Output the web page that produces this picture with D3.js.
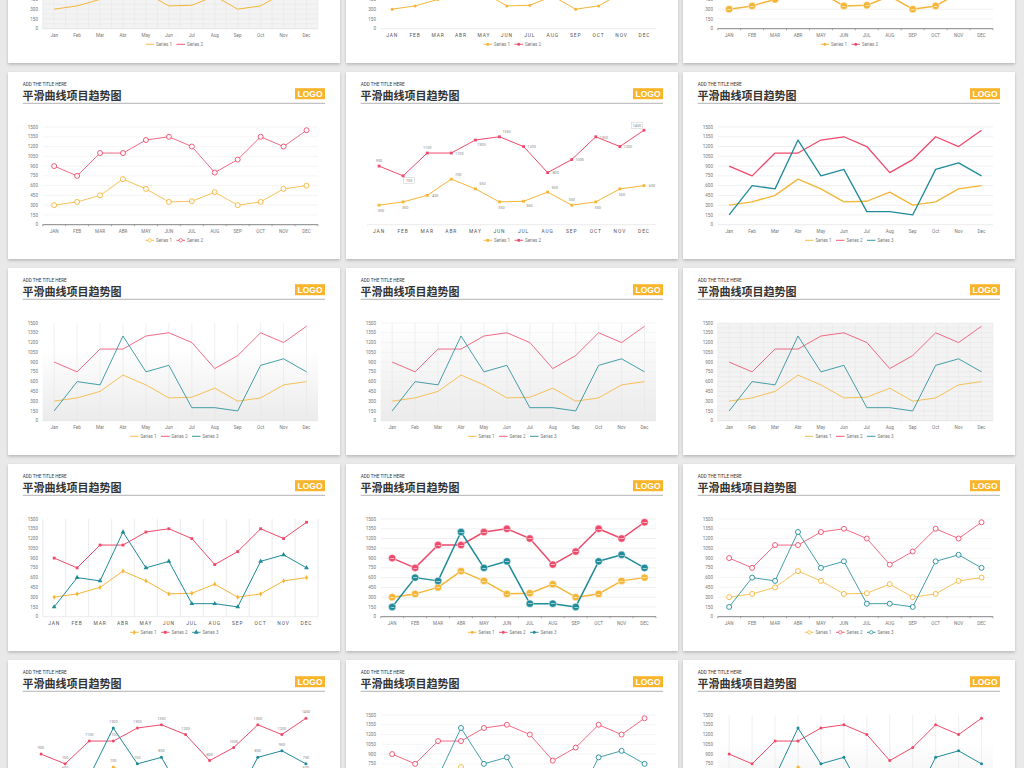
<!DOCTYPE html>
<html><head><meta charset="utf-8">
<script src="https://cdn.jsdelivr.net/npm/d3@7"></script>
<style>html,body{margin:0;padding:0;background:#e9e9e9;overflow:hidden}svg{display:block}</style>
</head><body>
<script>
// ---------- data ----------
const months = ["Jan","Feb","Mar","Abr","May","Jun","Jul","Aug","Sep","Oct","Nov","Dec"];
const series1 = [300,350,450,700,550,350,360,500,300,350,550,600];
const series2 = [900,750,1100,1100,1300,1350,1200,800,1000,1350,1200,1450];
const series3 = [150,600,550,1300,750,850,200,200,150,850,950,750];
const seriesNames = ["Series 1","Series 2","Series 3"];
const yTicks = [0,150,300,450,600,750,900,1050,1200,1350,1500];
const labelPos1 = ["b","b","r","tr","tr","b","br","tr","t","b","b","r"];
const labelPos2 = ["t","br","t","r","br","tr","r","r","r","r","r","tl"];
const boxed2 = [1,11];
const allSeries = [series1, series2, series3];
const colors = ["#f5b536","#ee4a6b","#1f8b99"];

// ---------- layout ----------
const W = 1024, H = 768;
const colX = [8, 346, 683], rowY = [-124, 72, 268, 464, 660];
const CW = 332, CH = 187;

const svg = d3.select("body").append("svg").attr("width", W).attr("height", H);
const defs = svg.append("defs");
const f = defs.append("filter").attr("id","sh").attr("x","-5%").attr("y","-5%").attr("width","110%").attr("height","115%");
f.append("feDropShadow").attr("dx",0).attr("dy",1.5).attr("stdDeviation",1.6).attr("flood-color","#000").attr("flood-opacity",0.22);
const gr = defs.append("linearGradient").attr("id","fade").attr("x1",0).attr("y1",0).attr("x2",0).attr("y2",1);
gr.append("stop").attr("offset","0%").attr("stop-color","#ffffff");
gr.append("stop").attr("offset","100%").attr("stop-color","#ebebeb");

const cards = [
 {c:0,r:0,n:2,lab:"mixed",marker:"none",bg:"grid"},
 {c:1,r:0,n:2,lab:"spaced",marker:"dot",axis:"light"},
 {c:2,r:0,n:2,lab:"upper",marker:"big",hGrid:true,axis:"dark",lw:1.5},
 {c:0,r:1,n:2,lab:"upper",marker:"hollow",hGrid:true,axis:"dark",light:true},
 {c:1,r:1,n:2,lab:"spaced",marker:"square",noY:true,labels:"custom",axis:"light"},
 {c:2,r:1,n:3,lab:"mixed",marker:"none",hGrid:true,lw:1.3},
 {c:0,r:2,n:3,lab:"mixed",marker:"none",bg:"gradient",vGrid:"center",light:true},
 {c:1,r:2,n:3,lab:"mixed",marker:"none",bg:"gradient",hGrid:true,vGrid:"center",light:true},
 {c:2,r:2,n:3,lab:"mixed",marker:"none",bg:"grid",light:true},
 {c:0,r:3,n:3,lab:"spaced",marker:"sym",vGrid:"band"},
 {c:1,r:3,n:3,lab:"upper",marker:"big",hGrid:true,axis:"dark",lw:1.5},
 {c:2,r:3,n:3,lab:"upper",marker:"hollow",hGrid:true,axis:"dark",light:true},
 {c:0,r:4,n:3,lab:"upper",marker:"dot",noY:true,labels:"above"},
 {c:1,r:4,n:3,lab:"upper",marker:"hollow",hGrid:true,light:true},
 {c:2,r:4,n:3,lab:"upper",marker:"dot",bg:"gradient",vGrid:"center"}
];

const FONT = "Roboto, 'Liberation Sans', sans-serif";
const symTypes = [d3.symbolDiamond, d3.symbolSquare, d3.symbolTriangle];

function drawMarker(g, kind, i, cx, cy, val, col) {
  if (kind === "hollow") {
    g.append("circle").attr("cx",cx).attr("cy",cy).attr("r",2.5).attr("fill","#fff").attr("stroke",col).attr("stroke-width",1);
  } else if (kind === "dot") {
    g.append("circle").attr("cx",cx).attr("cy",cy).attr("r",1.5).attr("fill",col);
  } else if (kind === "square") {
    g.append("rect").attr("x",cx-1.4).attr("y",cy-1.4).attr("width",2.8).attr("height",2.8).attr("fill",col);
  } else if (kind === "sym") {
    g.append("path").attr("d", d3.symbol().type(symTypes[i]).size(i===2?10:8)()).attr("transform",`translate(${cx},${cy})`).attr("fill",col);
  } else if (kind === "big") {
    g.append("circle").attr("cx",cx).attr("cy",cy).attr("r",3.7).attr("fill",col).attr("stroke","#fff").attr("stroke-opacity",0.7).attr("stroke-width",0.7);
    if (val !== null) g.append("text").attr("x",cx).attr("y",cy+0.8).attr("text-anchor","middle").attr("font-size",2.3).attr("font-weight","bold").attr("fill","#fff").attr("font-family",FONT).text(val);
  }
}

function drawCard(o) {
  const g = svg.append("g").attr("transform",`translate(${colX[o.c]},${rowY[o.r]})`);
  g.append("rect").attr("width",CW).attr("height",CH).attr("fill","#fff").attr("filter","url(#sh)");
  // header
  g.append("text").attr("x",14.7).attr("y",13.6).attr("font-size",4.6).attr("fill","#333").attr("font-family",FONT).text("ADD THE TITLE HERE");
  g.append("text").attr("x",14.5).attr("y",28).attr("font-size",11).attr("font-weight","bold").attr("fill","#333")
    .attr("font-family","'Noto Sans CJK SC', sans-serif").text("平滑曲线项目趋势图");
  g.append("line").attr("x1",14.7).attr("x2",317).attr("y1",31.3).attr("y2",31.3).attr("stroke","#a0a0a0").attr("stroke-width",0.8);
  g.append("rect").attr("x",287).attr("y",16.2).attr("width",30).attr("height",11).attr("fill","#f8b42a");
  g.append("text").attr("x",302).attr("y",25).attr("text-anchor","middle").attr("font-size",8.5).attr("font-weight","bold")
    .attr("fill","#fff").attr("font-family","'Liberation Sans Narrow', 'Liberation Sans', sans-serif").text("LOGO");

  const x0 = o.noY ? 21 : 34.7, x1 = 310;
  const x = d3.scalePoint().domain(months).range([x0, x1]).padding(0.5);
  const step = x.step();
  const y = d3.scaleLinear().domain([0,1500]).range([152.7, 55]);
  const p = g.append("g");

  // backgrounds
  if (o.bg === "gradient") {
    const top = o.hGrid ? y(1500) : y(1100);
    p.append("rect").attr("x",x0).attr("y",top).attr("width",x1-x0).attr("height",y(0)-top).attr("fill","url(#fade)");
  }
  if (o.bg === "grid") {
    p.append("rect").attr("x",x0).attr("y",y(1500)).attr("width",x1-x0).attr("height",y(0)-y(1500)).attr("fill","#f3f3f3");
    const minorY = d3.range(0,1501,75);
    p.selectAll(null).data(minorY).join("line").attr("x1",x0).attr("x2",x1).attr("y1",d=>y(d)).attr("y2",d=>y(d))
      .attr("stroke","#e4e4e4").attr("stroke-width",0.5);
    const vx = d3.range(0, months.length*2+1).map(k => x0 + k*step/2);
    p.selectAll(null).data(vx).join("line").attr("x1",d=>d).attr("x2",d=>d).attr("y1",y(1500)).attr("y2",y(0))
      .attr("stroke","#e4e4e4").attr("stroke-width",0.5);
  }
  if (o.hGrid) {
    p.selectAll(null).data(yTicks.slice(1)).join("line").attr("x1",x0).attr("x2",x1).attr("y1",d=>y(d)).attr("y2",d=>y(d))
      .attr("stroke", o.light ? "#eeeeee" : "#e6e6e6").attr("stroke-width",0.6);
  }
  if (o.vGrid === "center") {
    p.selectAll(null).data(months).join("line").attr("x1",d=>x(d)).attr("x2",d=>x(d)).attr("y1",y(1500)).attr("y2",y(0))
      .attr("stroke","#e6e6e6").attr("stroke-width",0.6);
  }
  if (o.vGrid === "band") {
    const bx = d3.range(0, months.length+1).map(k => x0 + k*step);
    p.selectAll(null).data(bx).join("line").attr("x1",d=>d).attr("x2",d=>d).attr("y1",y(1500)).attr("y2",y(0))
      .attr("stroke","#efefef").attr("stroke-width",1.2);
  }
  // x axis baseline
  if (o.axis === "dark") {
    p.append("line").attr("x1",x0).attr("x2",x1).attr("y1",y(0)).attr("y2",y(0)).attr("stroke","#777").attr("stroke-width",0.9);
    const bx = d3.range(0, months.length+1).map(k => x0 + k*step);
    p.selectAll(null).data(bx).join("line").attr("x1",d=>d).attr("x2",d=>d).attr("y1",y(0)).attr("y2",y(0)+1.6)
      .attr("stroke","#777").attr("stroke-width",0.6);
  } else {
    p.append("line").attr("x1",x0).attr("x2",x1).attr("y1",y(0)).attr("y2",y(0)).attr("stroke","#e3e3e3").attr("stroke-width",0.7);
  }
  // y labels
  if (!o.noY) {
    p.selectAll(null).data(yTicks).join("text").attr("x",30).attr("y",d=>y(d)+1.6).attr("text-anchor","end")
      .attr("font-size",4.6).attr("fill","#777").attr("font-family",FONT).text(d=>d);
  }
  // x labels
  p.selectAll(null).data(months).join("text").attr("x",d=>x(d)).attr("y",160.5).attr("text-anchor","middle")
    .attr("font-size", o.lab === "spaced" ? 4.9 : 4.6)
    .attr("letter-spacing", o.lab === "spaced" ? 0.9 : 0)
    .attr("fill", o.lab === "spaced" ? "#555" : "#777").attr("font-family",FONT)
    .text(d => o.lab === "mixed" ? d : d.toUpperCase());

  // series
  const lw = o.lw || 1;
  for (let s = 0; s < o.n; s++) {
    const data = allSeries[s];
    const col = colors[s];
    const op = o.light ? 0.82 : 1;
    const line = d3.line().x((d,i)=>x(months[i])).y(d=>y(d));
    p.append("path").attr("d", line(data)).attr("fill","none").attr("stroke",col).attr("stroke-opacity",op).attr("stroke-width",lw).attr("stroke-linejoin","round");
    const mg = p.append("g").attr("opacity", o.light ? 0.9 : 1);
    data.forEach((v,i) => {
      if (o.marker !== "none") drawMarker(mg, o.marker, s, x(months[i]), y(v), v, col);
    });
    if (o.labels === "custom") {
      const pos = s === 0 ? labelPos1 : labelPos2;
      data.forEach((v,i) => {
        const off = {t:[0,-4.5],b:[2,6.8],r:[8,1.8],tr:[7,-3.5],br:[6,6],tl:[-7,-3.5]}[pos[i]];
        const tx = x(months[i]) + off[0], ty = y(v) + off[1];
        if (s === 1 && boxed2.includes(i)) {
          g.append("rect").attr("x",tx-5.5).attr("y",ty-4.5).attr("width",11).attr("height",6.2).attr("fill","#fff").attr("stroke","#bbb").attr("stroke-width",0.4);
        }
        g.append("text").attr("x",tx).attr("y",ty).attr("text-anchor","middle").attr("font-size",3.8).attr("fill","#888").attr("font-family",FONT).text(v);
      });
    }
    if (o.labels === "above") {
      data.forEach((v,i) => {
        g.append("text").attr("x",x(months[i])).attr("y",y(v)-5).attr("text-anchor","middle").attr("font-size",3.8).attr("fill","#888").attr("font-family",FONT).text(v);
      });
    }
  }
  // legend
  const itemW = 31;
  const start = 166 - (o.n*itemW - 5)/2;
  for (let s = 0; s < o.n; s++) {
    const lx = start + s*itemW, ly = 168.3;
    const lg = g.append("g");
    lg.append("line").attr("x1",lx).attr("x2",lx+8.5).attr("y1",ly).attr("y2",ly).attr("stroke",colors[s]).attr("stroke-width",0.9);
    if (o.marker !== "none") {
      const mk = o.marker === "big" ? "dot" : o.marker;
      drawMarker(lg, mk === "hollow" ? "hollowS" : mk, s, lx+4.25, ly, null, colors[s]);
      if (mk === "hollow") lg.append("circle").attr("cx",lx+4.25).attr("cy",ly).attr("r",1.7).attr("fill","#fff").attr("stroke",colors[s]).attr("stroke-width",0.7);
    }
    lg.append("text").attr("x",lx+10.5).attr("y",ly+1.6).attr("font-size",4.5).attr("fill","#777").attr("font-family",FONT).text(seriesNames[s]);
  }
}

cards.forEach(drawCard);
</script>
</body></html>
